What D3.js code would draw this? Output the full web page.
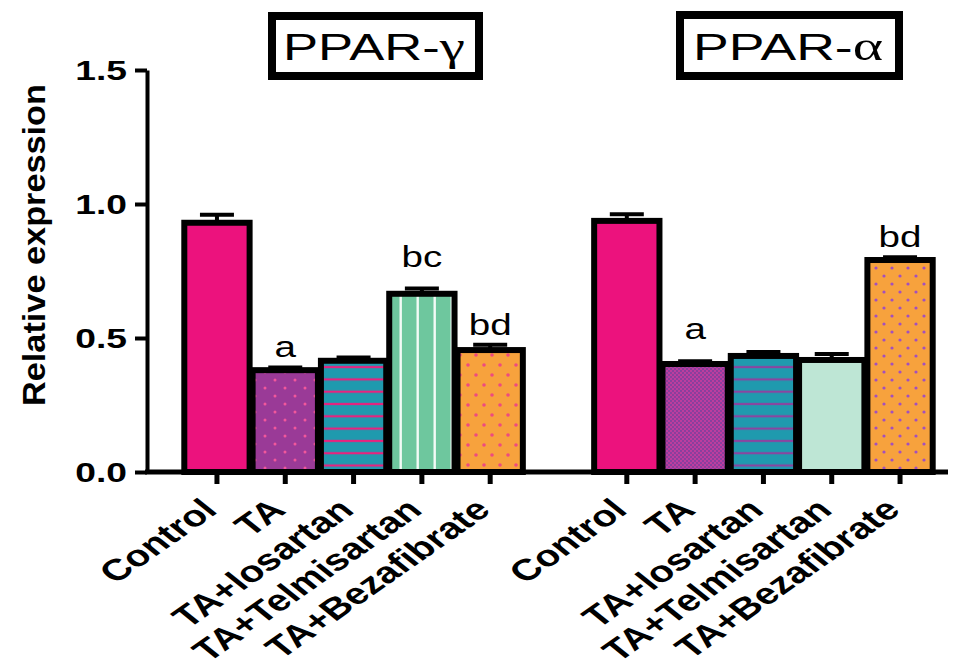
<!DOCTYPE html>
<html>
<head>
<meta charset="utf-8">
<script src="https://d3js.org/d3.v7.min.js"></script>
<style>
  html, body { margin: 0; background: #fff; }
  text { font-family: "Liberation Sans", Arial, sans-serif; }
</style>
</head>
<body>
<div id="chart"></div>
<script>
// data
var categories = ["Control", "TA", "TA+losartan", "TA+Telmisartan", "TA+Bezafibrate"];
var genes = ["PPAR-", "PPAR-"];
var greek = ["\u03b3", "\u03b1"];
var gammaValues = [0.93, 0.38, 0.415, 0.665, 0.455];
var gammaErrors = [0.03, 0.01, 0.012, 0.02, 0.02];
var alphaValues = [0.937, 0.403, 0.433, 0.418, 0.791];
var alphaErrors = [0.025, 0.01, 0.015, 0.022, 0.01];
var gammaSig = ["", "a", "", "bc", "bd"];
var alphaSig = ["", "a", "", "", "bd"];
var gammaSigAt = [0, 0.43, 0, 0.765, 0.51];
var alphaSigAt = [0, 0.495, 0, 0, 0.84];
var yTicks = [0, 0.5, 1.0, 1.5];

var W = 956, H = 659;
var SX = 1.33; // the figure is stretched sideways, text too

var svg = d3.select("#chart").append("svg")
    .attr("width", W).attr("height", H);

var defs = svg.append("defs");

function dots(id, bg, fg, w, h, r) {
    var p = defs.append("pattern").attr("id", id)
        .attr("patternUnits", "userSpaceOnUse").attr("width", w).attr("height", h);
    p.append("rect").attr("width", w).attr("height", h).attr("fill", bg);
    p.append("circle").attr("cx", w / 4).attr("cy", h / 4).attr("r", r).attr("fill", fg);
    p.append("circle").attr("cx", 3 * w / 4).attr("cy", 3 * h / 4).attr("r", r).attr("fill", fg);
}
function hlines(id, bg, fg, h) {
    var p = defs.append("pattern").attr("id", id)
        .attr("patternUnits", "userSpaceOnUse").attr("width", 10).attr("height", h);
    p.append("rect").attr("width", 10).attr("height", h).attr("fill", bg);
    p.append("rect").attr("y", h - 3).attr("width", 10).attr("height", 2.2).attr("fill", fg);
}
function vlines(id, bg, fg, w) {
    var p = defs.append("pattern").attr("id", id)
        .attr("patternUnits", "userSpaceOnUse").attr("width", w).attr("height", 10);
    p.append("rect").attr("width", w).attr("height", 10).attr("fill", bg);
    p.append("rect").attr("x", w / 2).attr("width", 2.4).attr("height", 10).attr("fill", fg);
}
function checks(id, bg, fg) {
    var p = defs.append("pattern").attr("id", id)
        .attr("patternUnits", "userSpaceOnUse").attr("width", 4).attr("height", 4);
    p.append("rect").attr("width", 4).attr("height", 4).attr("fill", bg);
    p.append("rect").attr("width", 2).attr("height", 2).attr("fill", fg);
    p.append("rect").attr("x", 2).attr("y", 2).attr("width", 2).attr("height", 2).attr("fill", fg);
}

dots("gTA", "#9a3a97", "#f2579b", 20, 16, 1.5);
hlines("gLos", "#1f9aae", "#e8227e", 12.3);
vlines("gTel", "#6ec79e", "#f2fbf6", 17);
dots("gBez", "#f7a23d", "#ee4a7f", 16, 20, 1.8);
checks("aTA", "#8a3f9d", "#bd3d9e");
hlines("aLos", "#1f9aae", "#8a45a0", 12.3);
dots("aBez", "#f7a23d", "#a24fbf", 16, 16, 1.6);

var gammaFills = ["#ec127d", "url(#gTA)", "url(#gLos)", "url(#gTel)", "url(#gBez)"];
var alphaFills = ["#ec127d", "url(#aTA)", "url(#aLos)", "#bee6d5", "url(#aBez)"];

// one band per bar, with an empty slot between the two genes
var slots = categories.map(function(c) { return "g|" + c; })
    .concat(["gap"])
    .concat(categories.map(function(c) { return "a|" + c; }));

var x = d3.scaleBand().domain(slots).range([182.8, 934.2]).padding(0);
var y = d3.scaleLinear().domain([0, 1.5]).range([472, 70]);
var bw = x.bandwidth();

var bars = [];
categories.forEach(function(c, i) {
    bars.push({key: "g|" + c, v: gammaValues[i], e: gammaErrors[i], fill: gammaFills[i], sig: gammaSig[i], at: gammaSigAt[i]});
});
categories.forEach(function(c, i) {
    bars.push({key: "a|" + c, v: alphaValues[i], e: alphaErrors[i], fill: alphaFills[i], sig: alphaSig[i], at: alphaSigAt[i]});
});

// error bars (upper only), under the bars
var eb = svg.append("g").attr("stroke", "#000").attr("stroke-width", 4);
eb.selectAll(".stem").data(bars).enter().append("line")
    .attr("x1", function(d) { return x(d.key) + bw / 2; })
    .attr("x2", function(d) { return x(d.key) + bw / 2; })
    .attr("y1", function(d) { return y(d.v); })
    .attr("y2", function(d) { return y(d.v + d.e); });
eb.selectAll(".cap").data(bars).enter().append("line")
    .attr("x1", function(d) { return x(d.key) + bw / 2 - 17; })
    .attr("x2", function(d) { return x(d.key) + bw / 2 + 17; })
    .attr("y1", function(d) { return y(d.v + d.e); })
    .attr("y2", function(d) { return y(d.v + d.e); });

svg.append("g").selectAll("rect").data(bars).enter().append("rect")
    .attr("x", function(d) { return x(d.key) + 1.5; })
    .attr("width", bw - 3)
    .attr("y", function(d) { return y(d.v); })
    .attr("height", function(d) { return y(0) - y(d.v); })
    .attr("fill", function(d) { return d.fill; })
    .attr("stroke", "#000").attr("stroke-width", 6);

// significance letters
svg.append("g").selectAll("text").data(bars.filter(function(d) { return d.sig; })).enter().append("text")
    .attr("transform", function(d) { return "translate(" + (x(d.key) + bw / 2) + "," + y(d.at) + ") scale(" + SX + ",1)"; })
    .attr("text-anchor", "middle")
    .attr("font-size", 29)
    .text(function(d) { return d.sig; });

// y axis
var yAxis = svg.append("g").attr("transform", "translate(147,0)")
    .call(d3.axisLeft(y).tickValues(yTicks).tickFormat(d3.format(".1f")).tickSize(12).tickSizeOuter(0));
yAxis.select(".domain").attr("stroke-width", 4);
yAxis.selectAll(".tick line").attr("stroke-width", 4);
yAxis.selectAll(".tick text")
    .attr("x", -20 / SX).attr("dy", "0.33em")
    .attr("transform", "scale(" + SX + ",1)")
    .attr("font-size", 28).attr("font-weight", "bold")
    .attr("font-family", "Liberation Sans, Arial, sans-serif")
    .attr("fill", "#000");

// x axis
var xAxis = svg.append("g").attr("transform", "translate(0,472)")
    .call(d3.axisBottom(x).tickValues(slots.filter(function(s) { return s !== "gap"; }))
        .tickSize(12).tickSizeOuter(0).tickFormat(function(s) { return s.split("|")[1]; }));
xAxis.select(".domain").remove();
xAxis.append("line").attr("x1", 145).attr("x2", 948).attr("stroke", "#000").attr("stroke-width", 5);
xAxis.selectAll(".tick line").attr("stroke-width", 5);
xAxis.selectAll(".tick text")
    .attr("y", 0).attr("dy", 0)
    .attr("text-anchor", "end")
    .attr("transform", "translate(2,40) scale(" + SX + ",1) rotate(-43)")
    .attr("font-size", 30).attr("font-weight", "bold")
    .attr("font-family", "Liberation Sans, Arial, sans-serif")
    .attr("fill", "#000");

// y title
svg.append("text")
    .attr("transform", "translate(45,245) rotate(-90)")
    .attr("text-anchor", "middle")
    .attr("font-size", 31).attr("font-weight", "bold")
    .attr("textLength", 322).attr("lengthAdjust", "spacingAndGlyphs")
    .text("Relative expression");

// gene title boxes
var boxes = [{x: 272, y: 16, w: 207, h: 60, cx: 374, tw: 182},
             {x: 680, y: 15, w: 219, h: 61, cx: 788, tw: 190}];
boxes.forEach(function(b, i) {
    svg.append("rect").attr("x", b.x).attr("y", b.y).attr("width", b.w).attr("height", b.h)
        .attr("fill", "#fff").attr("stroke", "#000").attr("stroke-width", 8);
    var t = svg.append("text")
        .attr("x", b.cx - b.tw / 2).attr("y", 60)
        .attr("font-size", 37)
        .attr("textLength", b.tw).attr("lengthAdjust", "spacingAndGlyphs");
    t.append("tspan").text(genes[i]);
    t.append("tspan").attr("font-family", "Liberation Serif, serif").attr("font-size", 40).text(greek[i]);
});
</script>
</body>
</html>
